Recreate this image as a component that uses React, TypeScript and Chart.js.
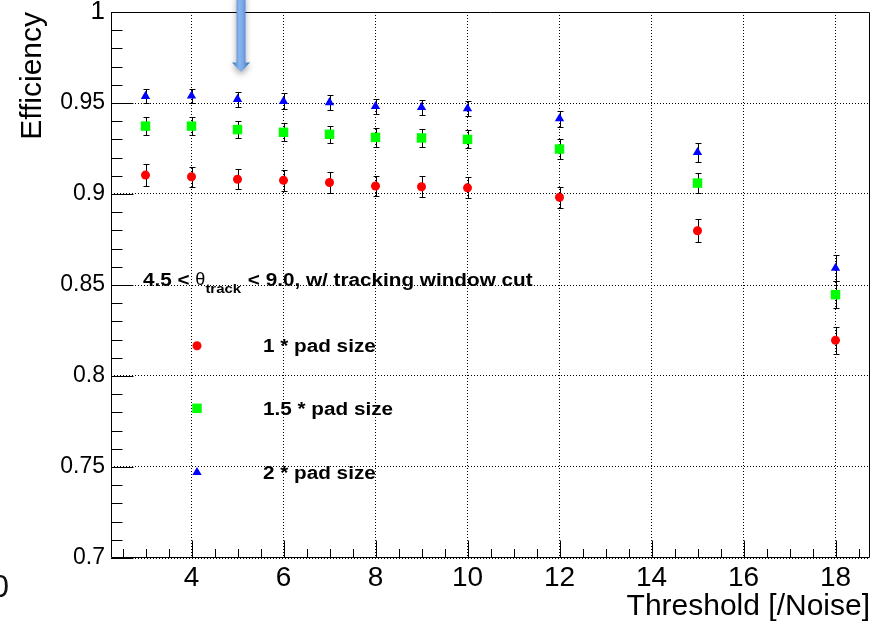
import React, { useEffect, useRef } from "react";
import { Chart, registerables } from "chart.js";

Chart.register(...registerables);

// ---------- data ----------
const thresholds = [3, 4, 5, 6, 7, 8, 9, 10, 12, 15, 18];
const eff1Pad = [0.9104, 0.9095, 0.9081, 0.9075, 0.9063, 0.9044, 0.904, 0.9034, 0.8982, 0.8798, 0.8196];
const err1Pad = [0.0059, 0.0056, 0.0056, 0.0057, 0.0056, 0.0055, 0.0059, 0.0058, 0.0058, 0.0062, 0.0075];
const eff15Pad = [0.9373, 0.9373, 0.9354, 0.9339, 0.9328, 0.9311, 0.9308, 0.93, 0.9247, 0.906, 0.8447];
const err15Pad = [0.0049, 0.0049, 0.0049, 0.0049, 0.0048, 0.0053, 0.0051, 0.005, 0.0053, 0.0057, 0.0073];
const eff2Pad = [0.9537, 0.9539, 0.9521, 0.9509, 0.9503, 0.9482, 0.9476, 0.9469, 0.9414, 0.9229, 0.8593];
const err2Pad = [0.0039, 0.0038, 0.0041, 0.0044, 0.0043, 0.0042, 0.004, 0.0042, 0.0044, 0.0053, 0.0073];
const seriesLabels = ["1 * pad size", "1.5 * pad size", "2 * pad size"];
const seriesColors = ["#ff0000", "#00ff00", "#0000ff"];
const seriesStyles = ["circle", "rect", "triangle"];
const seriesRadius = [4.5, 6.7, 5.4];

const xRange = [2.25, 18.75];
const xMajorStep = 2;
const xMinorStep = 0.5;
const yRange = [0.7, 1.0];
const yMajorStep = 0.05;
const yMinorStep = 0.01;

const xTitle = "Threshold [/Noise]";
const yTitle = "Efficiency";
const legendHeader = ["4.5 < ", "\u03b8", "track", " < 9.0, w/ tracking window cut"];

const FONT = "'Liberation Sans', Arial, Helvetica, sans-serif";

function drawMarker(ctx: CanvasRenderingContext2D, style: string, x: number, y: number, r: number, color: string) {
  ctx.save();
  ctx.fillStyle = color;
  ctx.beginPath();
  if (style === "circle") {
    ctx.arc(x, y, r, 0, Math.PI * 2);
  } else if (style === "rect") {
    const s = r * Math.SQRT1_2;
    ctx.rect(x - s, y - s, 2 * s, 2 * s);
  } else {
    let a = 0;
    ctx.moveTo(x + Math.sin(a) * r, y - Math.cos(a) * r);
    a += (2 * Math.PI) / 3;
    ctx.lineTo(x + Math.sin(a) * r, y - Math.cos(a) * r);
    a += (2 * Math.PI) / 3;
    ctx.lineTo(x + Math.sin(a) * r, y - Math.cos(a) * r);
    ctx.closePath();
  }
  ctx.fill();
  ctx.restore();
}

function scaledText(ctx: CanvasRenderingContext2D, text: string, x: number, y: number, font: string, sx: number) {
  ctx.save();
  ctx.font = font;
  ctx.fillStyle = "#000";
  ctx.textBaseline = "alphabetic";
  ctx.textAlign = "left";
  ctx.translate(x, y);
  ctx.scale(sx, 1);
  ctx.fillText(text, 0, 0);
  const w = ctx.measureText(text).width * sx;
  ctx.restore();
  return w;
}

const errors = [err1Pad, err15Pad, err2Pad];

const rootPlugin = {
  id: "rootStyle",
  beforeDatasetsDraw(chart: any) {
    const ctx: CanvasRenderingContext2D = chart.ctx;
    const ca = chart.chartArea;
    const xs = chart.scales.x;
    const ys = chart.scales.y;
    const L = Math.round(ca.left) + 0.5;
    const R = Math.round(ca.right) - 0.5;
    const T = Math.round(ca.top) + 0.5;
    const B = Math.round(ca.bottom) - 0.5;
    ctx.save();
    ctx.strokeStyle = "#000";
    ctx.lineWidth = 1;
    ctx.setLineDash([]);
    // frame
    ctx.beginPath();
    ctx.rect(L, T, R - L, B - T);
    ctx.stroke();
    // y ticks (inward)
    ctx.beginPath();
    const nY = Math.round((yRange[1] - yRange[0]) / yMinorStep);
    for (let i = 0; i <= nY; i++) {
      const v = yRange[0] + i * yMinorStep;
      const major = i % Math.round(yMajorStep / yMinorStep) === 0;
      const py = Math.round(ys.getPixelForValue(v)) + 0.5;
      ctx.moveTo(L, py);
      ctx.lineTo(L + (major ? 22 : 11), py);
    }
    // x ticks (inward)
    const start = Math.ceil(xRange[0] / xMinorStep) * xMinorStep;
    for (let v = start; v <= xRange[1] + 1e-9; v += xMinorStep) {
      const major = Math.abs(v / xMajorStep - Math.round(v / xMajorStep)) < 1e-6;
      const px = Math.round(xs.getPixelForValue(v)) + 0.5;
      ctx.moveTo(px, B);
      ctx.lineTo(px, B - (major ? 17 : 8.5));
    }
    ctx.stroke();
    // error bars
    ctx.beginPath();
    chart.data.datasets.forEach((ds: any, di: number) => {
      const e = errors[di];
      ds.data.forEach((p: any, i: number) => {
        const px = Math.round(xs.getPixelForValue(p.x)) + 0.5;
        const y1 = Math.round(ys.getPixelForValue(p.y - e[i])) + 0.5;
        const y2 = Math.round(ys.getPixelForValue(p.y + e[i])) + 0.5;
        ctx.moveTo(px, y1);
        ctx.lineTo(px, y2);
        ctx.moveTo(px - 3, y1);
        ctx.lineTo(px + 3, y1);
        ctx.moveTo(px - 3, y2);
        ctx.lineTo(px + 3, y2);
      });
    });
    ctx.stroke();
    ctx.restore();
  },
  afterDraw(chart: any) {
    const ctx: CanvasRenderingContext2D = chart.ctx;
    const ca = chart.chartArea;
    // legend box (ROOT TLegend style, no border)
    const sx = 1.15;
    const big = "bold 18px " + FONT;
    let x = ca.left + 32;
    const base = ca.top + 274.4;
    x += scaledText(ctx, legendHeader[0], x, base, big, sx);
    ctx.save();
    ctx.font = "18px " + FONT;
    ctx.fillStyle = "#000";
    ctx.textBaseline = "alphabetic";
    ctx.fillText(legendHeader[1], x, base - 1);
    x += ctx.measureText(legendHeader[1]).width;
    ctx.restore();
    x += scaledText(ctx, legendHeader[2], x, base + 6.5, "bold 13px " + FONT, sx);
    scaledText(ctx, legendHeader[3], x + 1, base, big, sx);

    const rowY = [ca.top + 333.7, ca.top + 396.3, ca.top + 460.3];
    seriesLabels.forEach((lab, i) => {
      drawMarker(ctx, seriesStyles[i], ca.left + 86, rowY[i], seriesRadius[i], seriesColors[i]);
      scaledText(ctx, lab, ca.left + 152, rowY[i] + 6.4, big, sx);
    });

    // blue arrow annotation
    ctx.save();
    const ax = 241;
    const grad = ctx.createLinearGradient(ax - 9, 0, ax + 9, 0);
    grad.addColorStop(0, "#3470c4");
    grad.addColorStop(0.4, "#88b6ee");
    grad.addColorStop(0.6, "#78a8e6");
    grad.addColorStop(1, "#2e66b8");
    ctx.shadowColor = "rgba(0,0,0,0.35)";
    ctx.shadowBlur = 6;
    ctx.shadowOffsetY = 3;
    ctx.fillStyle = grad;
    ctx.beginPath();
    ctx.moveTo(ax - 4.5, -5);
    ctx.lineTo(ax + 4.5, -5);
    ctx.lineTo(ax + 4.5, 62.5);
    ctx.lineTo(ax + 9, 62.5);
    ctx.lineTo(ax, 72);
    ctx.lineTo(ax - 9, 62.5);
    ctx.lineTo(ax - 4.5, 62.5);
    ctx.closePath();
    ctx.fill();
    ctx.restore();

    // stray clipped label at the lower left
    ctx.save();
    ctx.font = "32px " + FONT;
    ctx.fillStyle = "#111";
    ctx.textAlign = "right";
    ctx.textBaseline = "alphabetic";
    ctx.fillText("0", 9, 597);
    ctx.restore();
  },
};

export default function App() {
  const ref = useRef<HTMLCanvasElement | null>(null);
  useEffect(() => {
    if (!ref.current) return;
    const datasets = [eff1Pad, eff15Pad, eff2Pad].map((vals, i) => ({
      label: seriesLabels[i],
      data: thresholds.map((t, j) => ({ x: t, y: vals[j] })),
      showLine: false,
      pointStyle: seriesStyles[i],
      pointRadius: seriesRadius[i],
      pointBackgroundColor: seriesColors[i],
      pointBorderColor: seriesColors[i],
      pointBorderWidth: 0,
      backgroundColor: seriesColors[i],
      borderColor: seriesColors[i],
    }));
    const chart = new Chart(ref.current, {
      type: "scatter",
      data: { datasets },
      options: {
        animation: false,
        responsive: true,
        maintainAspectRatio: false,
        layout: { padding: { left: 0, right: 13, top: 12, bottom: 0 } },
        plugins: { legend: { display: false }, tooltip: { enabled: false } },
        scales: {
          x: {
            type: "linear",
            min: xRange[0],
            max: xRange[1],
            afterFit: (s: any) => {
              s.height = 70;
              s.paddingLeft = 0;
              s.paddingRight = 0;
            },
            ticks: {
              stepSize: xMajorStep,
              includeBounds: false,
              padding: 3,
              color: "#000",
              font: { family: FONT, size: 28 },
              maxRotation: 0,
              autoSkip: false,
            },
            grid: { color: "#000", lineWidth: 1, drawTicks: false, borderDash: [1, 2] },
            border: { display: false, dash: [1, 2] },
            title: {
              display: true,
              text: xTitle,
              align: "end",
              color: "#000",
              font: { family: FONT, size: 30 },
              padding: { top: 0, bottom: 3.7 },
            },
          },
          y: {
            type: "linear",
            min: yRange[0],
            max: yRange[1],
            afterFit: (s: any) => {
              s.width = 111;
              s.paddingTop = 0;
              s.paddingBottom = 0;
            },
            ticks: {
              stepSize: yMajorStep,
              padding: 6,
              color: "#000",
              font: (c: any) => ({ family: FONT, size: c.tick && c.tick.value === 1 ? 26 : 23 }),
              callback: (v: any) => String(Number(Number(v).toFixed(2))),
            },
            grid: { color: "#000", lineWidth: 1, drawTicks: false, borderDash: [1, 2] },
            border: { display: false, dash: [1, 2] },
            title: {
              display: true,
              text: yTitle,
              align: "end",
              color: "#000",
              font: { family: FONT, size: 30 },
              padding: { top: 14.6, bottom: 0 },
            },
          },
        },
      },
      plugins: [rootPlugin],
    } as any);
    return () => chart.destroy();
  }, []);
  return (
    <div style={{ position: "absolute", left: 0, top: 0, width: 883, height: 628, background: "#fff", overflow: "hidden" }}>
      <canvas ref={ref} />
    </div>
  );
}
